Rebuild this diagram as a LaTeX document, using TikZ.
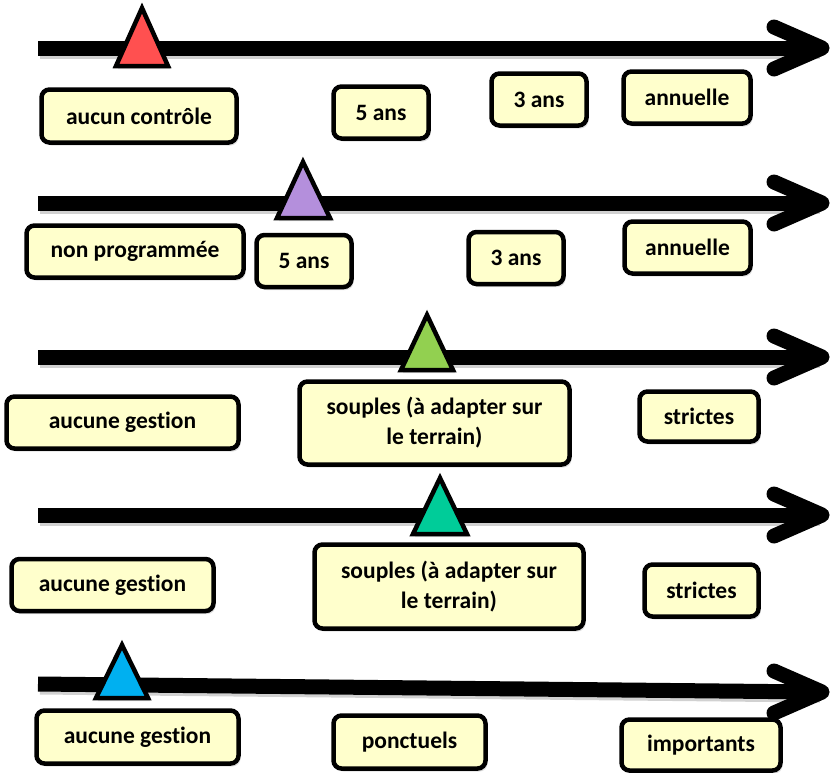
\documentclass[tikz,border=0pt]{standalone}
\usepackage{fontspec}
\setmainfont{Carlito}[Ligatures=NoCommon]
\usetikzlibrary{shadows}
\definecolor{boxfill}{HTML}{FFFFCC}
\definecolor{tred}{HTML}{FF5050}
\definecolor{tpurple}{HTML}{B48FDC}
\definecolor{tgreen}{HTML}{92D050}
\definecolor{tteal}{HTML}{00CC99}
\definecolor{tblue}{HTML}{00B0F0}
\begin{document}
\begin{tikzpicture}[x=1pt,y=-1pt,
  softshadow/.style={drop shadow={shadow xshift=2pt,shadow yshift=-3pt,opacity=0.25}},
  lbl/.style={draw=black, line width=4.5pt, rounded corners=8pt, fill=boxfill,
    font=\bfseries\fontsize{23.5}{30}\selectfont, align=center, inner sep=0pt, softshadow},
  axisline/.style={line width=15pt},
  axisshadow/.style={line width=15pt, black, opacity=0.18},
  headline/.style={line width=15pt, line cap=round, line join=round},
  tri/.style={draw=black, line width=4.5pt, line join=miter, softshadow}]
\useasboundingbox (0,0) rectangle (832,772);

% ---------- axes ----------
\foreach \i/\ya/\yb in {1/48/48, 2/203/203, 3/357/357, 4/515/515, 5/684/692}{
  \coordinate (s\i) at (38,\ya);
  \coordinate (e\i) at (818,\yb);
  \coordinate (t\i) at (822,\yb);
}
\foreach \i/\yb in {1/48, 2/203, 3/357, 4/515, 5/692}{
  \coordinate (ha\i) at (774,\yb-21);
  \coordinate (hb\i) at (774,\yb+21);
}
\foreach \i in {1,...,5}{
  \draw[axisshadow, transform canvas={shift={(2pt,-3pt)}}] (s\i) -- (e\i);
  \draw[axisline] (s\i) -- (e\i);
  \draw[headline] (ha\i) -- (t\i) -- (hb\i);
}

% ---------- triangles ----------
\filldraw[tri, fill=tred]    (142,8)   -- (168,66)  -- (116,66)  -- cycle;
\filldraw[tri, fill=tpurple] (303,162) -- (330,218) -- (277,218) -- cycle;
\filldraw[tri, fill=tgreen]  (427,315) -- (453,370) -- (401,370) -- cycle;
\filldraw[tri, fill=tteal]   (440,478) -- (467,534) -- (413,534) -- cycle;
\filldraw[tri, fill=tblue]   (122,645) -- (148,698) -- (96,698)  -- cycle;

% ---------- row 1 ----------
\node[lbl, minimum width=195pt, minimum height=53pt] (r1a) at (139,116) {aucun contrôle};
\node[lbl, minimum width=95pt,  minimum height=52pt] (r1b) at (381,112.5) {5 ans};
\node[lbl, minimum width=95pt,  minimum height=52pt] (r1c) at (539,99.5) {3 ans};
\node[lbl, minimum width=127pt, minimum height=52pt] (r1d) at (687,97.5) {annuelle};

% ---------- row 2 ----------
\node[lbl, minimum width=217pt, minimum height=52pt] (r2a) at (135,251.5) {non programmée};
\node[lbl, minimum width=95pt,  minimum height=52pt] (r2b) at (304,261) {5 ans};
\node[lbl, minimum width=95pt,  minimum height=52pt] (r2c) at (516,258) {3 ans};
\node[lbl, minimum width=126pt, minimum height=52pt] (r2d) at (687.5,247.5) {annuelle};

% ---------- row 3 ----------
\node[lbl, minimum width=232pt, minimum height=52pt] (r3a) at (122.5,422.5) {aucune gestion};
\node[lbl, minimum width=270pt, minimum height=83pt] (r3b) at (434.5,423) {souples (à adapter sur\\le terrain)};
\node[lbl, minimum width=119pt, minimum height=50pt] (r3c) at (699,416.5) {strictes};

% ---------- row 4 ----------
\node[lbl, minimum width=202pt, minimum height=52pt] (r4a) at (112.5,585) {aucune gestion};
\node[lbl, minimum width=269pt, minimum height=84pt] (r4b) at (449,586.5) {souples (à adapter sur\\le terrain)};
\node[lbl, minimum width=114pt, minimum height=52pt] (r4c) at (701.5,590.5) {strictes};

% ---------- row 5 ----------
\node[lbl, minimum width=202pt, minimum height=53pt] (r5a) at (137.5,737) {aucune gestion};
\node[lbl, minimum width=152pt, minimum height=53pt] (r5b) at (409.5,742) {ponctuels};
\node[lbl, minimum width=159pt, minimum height=51pt] (r5c) at (701,745) {importants};
\end{tikzpicture}
\end{document}
